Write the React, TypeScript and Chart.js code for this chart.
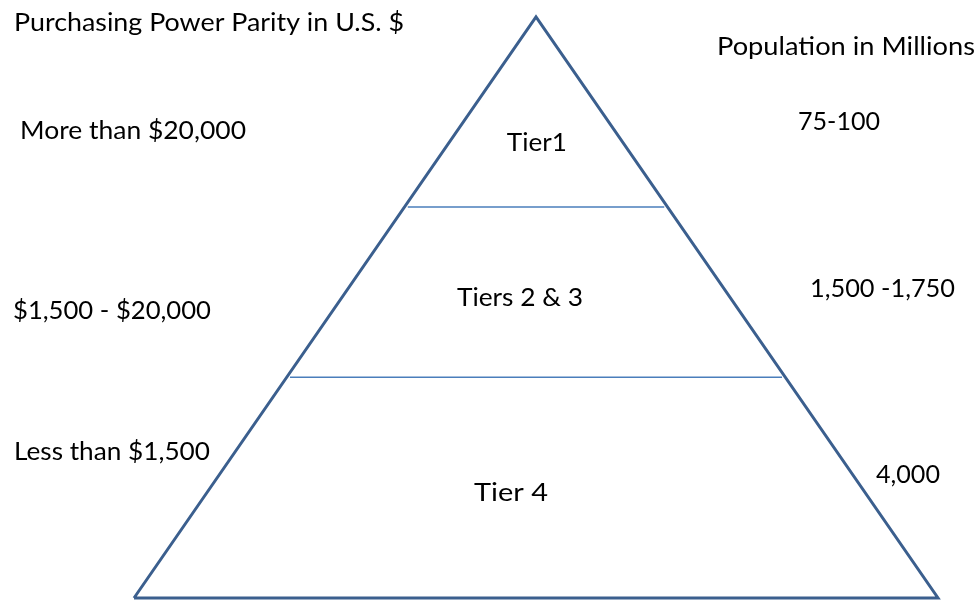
import React, { useEffect, useRef } from "react";
import { Chart, registerables } from "chart.js";

Chart.register(...registerables);

// Pyramid outline in normalized units: x in [-1, 1], y from base (0) to apex (1)
const PYRAMID_X = [-1, 0, 1, -1];
const PYRAMID_Y = [0, 1, 0, 0];

// Heights (fraction of pyramid height from base) of tier boundaries
const TIER_BOUNDARIES = [0.673, 0.38];

const TIER_NAMES = ["Tier1", "Tiers 2 & 3", "Tier 4"];
const TIER_LABEL_X = [0.002, -0.04, -0.062];
const TIER_LABEL_Y = [0.783, 0.516, 0.181];

const LEFT_TITLE = "Purchasing Power Parity in U.S. $";
const RIGHT_TITLE = "Population in Millions";
const PPP_LABELS = ["More than $20,000", "$1,500 - $20,000", "Less than $1,500"];
const POPULATION_LABELS = ["75-100", "1,500 -1,750", "4,000"];

// Text layout (pixels): left edge x, center y, rendered width w
const LEFT_TITLE_POS = { x: 14, y: 23, w: 390 };
const RIGHT_TITLE_POS = { x: 717, y: 47, w: 258 };
const PPP_POS = [
  { x: 20, y: 131, w: 226 },
  { x: 13, y: 311, w: 198 },
  { x: 14, y: 452, w: 196 },
];
const POP_POS = [
  { x: 798, y: 122, w: 82 },
  { x: 810, y: 289, w: 145 },
  { x: 876, y: 475, w: 64 },
];
const TIER_W = [60, 126, 74];

const FONT = '25px Lato, "Open Sans", sans-serif';

function drawFitted(ctx: CanvasRenderingContext2D, text: string, x: number, y: number, w: number, center = false) {
  const m = ctx.measureText(text).width;
  const s = w / m;
  ctx.save();
  const left = center ? x - w / 2 : x;
  ctx.translate(left, y);
  ctx.scale(s, 1);
  ctx.textAlign = "left";
  ctx.fillText(text, 0, 0);
  ctx.restore();
}

const textPlugin = {
  id: "pyramidText",
  afterDatasetsDraw(chart: any) {
    const ctx = chart.ctx;
    const xs = chart.scales.x;
    const ys = chart.scales.y;
    ctx.save();
    ctx.font = FONT;
    ctx.fillStyle = "#000000";
    ctx.textBaseline = "middle";
    drawFitted(ctx, LEFT_TITLE, LEFT_TITLE_POS.x, LEFT_TITLE_POS.y, LEFT_TITLE_POS.w);
    drawFitted(ctx, RIGHT_TITLE, RIGHT_TITLE_POS.x, RIGHT_TITLE_POS.y, RIGHT_TITLE_POS.w);
    PPP_LABELS.forEach((t, i) => drawFitted(ctx, t, PPP_POS[i].x, PPP_POS[i].y, PPP_POS[i].w));
    POPULATION_LABELS.forEach((t, i) => drawFitted(ctx, t, POP_POS[i].x, POP_POS[i].y, POP_POS[i].w));
    TIER_NAMES.forEach((t, i) => {
      drawFitted(ctx, t, xs.getPixelForValue(TIER_LABEL_X[i]), ys.getPixelForValue(TIER_LABEL_Y[i]), TIER_W[i], true);
    });
    ctx.restore();
  },
};

export default function App() {
  const ref = useRef<HTMLCanvasElement | null>(null);
  useEffect(() => {
    if (!ref.current) return;
    const outline = PYRAMID_X.map((x, i) => ({ x, y: PYRAMID_Y[i] }));
    const boundaryDatasets = TIER_BOUNDARIES.map((h) => ({
      label: "boundary",
      data: [
        { x: -(1 - h) + 0.008, y: h },
        { x: 1 - h - 0.008, y: h },
      ],
      showLine: true,
      borderColor: "#4A7EBB",
      borderWidth: 1.5,
      pointRadius: 0,
      fill: false,
    }));
    const chart = new Chart(ref.current, {
      type: "scatter",
      data: {
        datasets: [
          ...boundaryDatasets,
          {
            label: "pyramid",
            data: outline,
            showLine: true,
            borderColor: "#3B5F8E",
            borderWidth: 3,
            pointRadius: 0,
            fill: false,
            borderJoinStyle: "miter",
          } as any,
        ],
      },
      options: {
        animation: false,
        responsive: false,
        maintainAspectRatio: false,
        layout: { padding: 0 },
        plugins: { legend: { display: false }, tooltip: { enabled: false } },
        scales: {
          x: { type: "linear", display: false, min: -536 / 402, max: 444 / 402 },
          y: { type: "linear", display: false, min: -3 / 581, max: 598 / 581 },
        },
      },
      plugins: [textPlugin],
    });
    return () => chart.destroy();
  }, []);
  return (
    <div style={{ position: "absolute", left: 0, top: 0, width: 980, height: 601, background: "#fff" }}>
      <canvas ref={ref} width={980} height={601} style={{ width: 980, height: 601 }} />
    </div>
  );
}
